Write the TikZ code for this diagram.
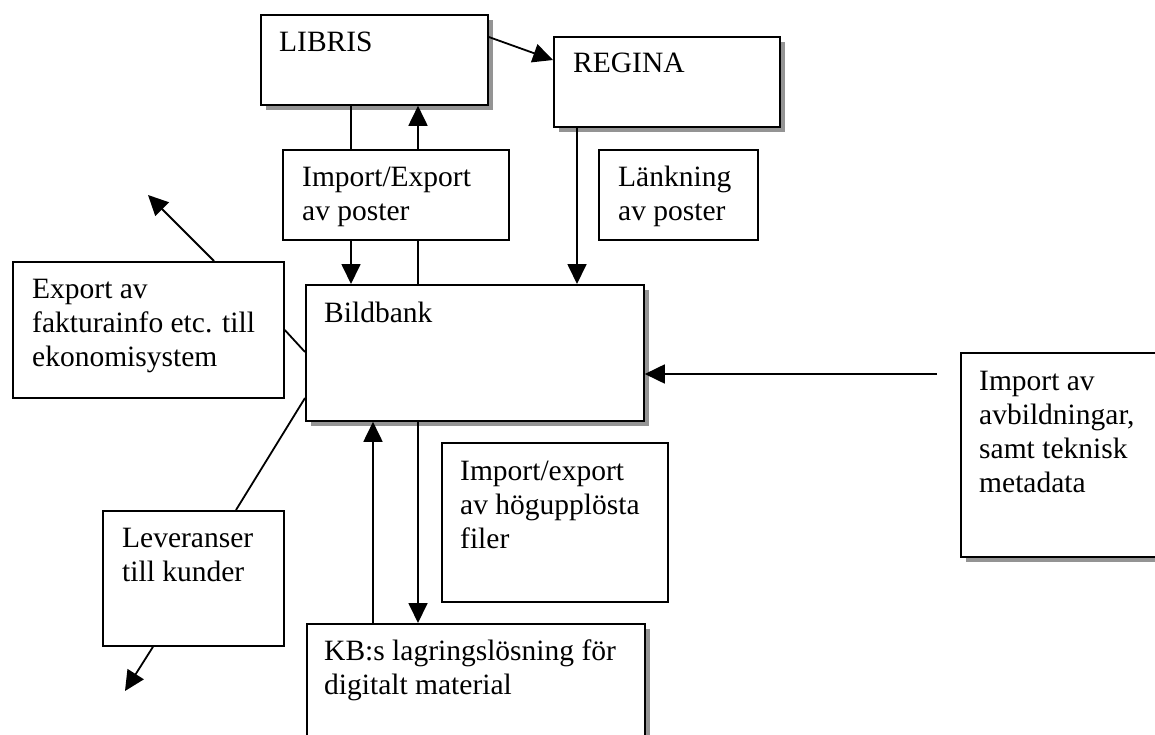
\documentclass[tikz,border=0pt]{standalone}
\usepackage{fontspec}
\setmainfont{Liberation Serif}
\usetikzlibrary{arrows.meta,shadows,calc}
\tikzset{
  box/.style={draw=black, line width=1.8pt, fill=white, rectangle, inner sep=0pt, anchor=north west},
  shadowed/.style={drop shadow={shadow xshift=5pt, shadow yshift=-5pt, fill=black!42, opacity=1}},
  txt/.style={inner sep=0pt, anchor=base west, font=\fontsize{29.5}{34}\selectfont},
  conn/.style={line width=1.8pt},
  arr/.style={conn, -{Triangle[length=20pt,width=19pt]}}
}
\newcommand{\mlines}[1]{\begin{tabular}[t]{@{}l@{}}#1\end{tabular}}
\begin{document}
\begin{tikzpicture}[x=1pt,y=-1pt]
\useasboundingbox (0,0) rectangle (1155,735);
\clip (0,0) rectangle (1155,735);
% boxes
\node[box,shadowed,minimum width=227pt,minimum height=90pt] (libris) at (260,14) {};
\node[box,shadowed,minimum width=226pt,minimum height=90pt] (regina) at (553,36) {};
\node[box,minimum width=226pt,minimum height=90pt] (impexp) at (282,149) {};
\node[box,minimum width=159pt,minimum height=90pt] (lank) at (598,149) {};
\node[box,shadowed,minimum width=338pt,minimum height=136pt] (bildbank) at (305,284) {};
\node[box,minimum width=271pt,minimum height=136pt] (export) at (12,261) {};
\node[box,minimum width=181pt,minimum height=135pt] (lev) at (102,510) {};
\node[box,minimum width=226pt,minimum height=159pt] (hog) at (441,442) {};
\node[box,shadowed,minimum width=338pt,minimum height=140pt] (kb) at (306,623) {};
\node[box,shadowed,minimum width=230pt,minimum height=204pt] (impav) at (960,352) {};
% texts
\node[txt] (t-libris) at (279,52) {LIBRIS};
\node[txt] (t-regina) at (573,73) {REGINA};
\node[txt] (t-impexp) at (302,187) {\mlines{Import/Export\\av poster}};
\node[txt] (t-lank) at (618,187) {\mlines{Länkning\\av poster}};
\node[txt] (t-bildbank) at (324,322) {Bildbank};
\node[txt] (t-export) at (32,298) {\mlines{Export av\\fakturainfo etc. till\\ekonomisystem}};
\node[txt] (t-lev) at (122,547) {\mlines{Leveranser\\till kunder}};
\node[txt] (t-hog) at (460,480) {\mlines{Import/export\\av högupplösta\\filer}};
\node[txt] (t-kb) at (324,660) {\mlines{KB:s lagringslösning för\\digitalt material}};
\node[txt] (t-impav) at (979,390) {\mlines{Import av\\avbildningar,\\samt teknisk\\metadata}};
% free ends
\coordinate (imsrc) at (937,374);
\coordinate (exptip) at (148,195);
\coordinate (levtip) at (125,691);
% connectors
\draw[arr] ([yshift=-23pt]libris.north east) -- ([yshift=-24pt]regina.north west);
\draw[conn] ([xshift=91pt]libris.south west) -- ([xshift=69pt]impexp.north west);
\draw[arr] ([xshift=136pt]impexp.north west) -- ([xshift=158pt]libris.south west);
\draw[arr] ([xshift=69pt]impexp.south west) -- ([xshift=46pt]bildbank.north west);
\draw[conn] ([xshift=136pt]impexp.south west) -- ([xshift=113pt]bildbank.north west);
\draw[arr] ([xshift=24pt]regina.south west) -- ([xshift=272pt]bildbank.north west);
\draw[arr] (imsrc) -- ([yshift=-90pt]bildbank.north east);
\draw[arr] ([xshift=67pt]kb.north west) -- ([xshift=68pt]bildbank.south west);
\draw[arr] ([xshift=113pt]bildbank.south west) -- ([xshift=112pt]kb.north west);
\draw[arr] ([xshift=202pt]export.north west) -- (exptip);
\draw[conn] ([yshift=-69pt]export.north east) -- ([yshift=-68pt]bildbank.north west);
\draw[conn] ([yshift=-114pt]bildbank.north west) -- ([xshift=134pt]lev.north west);
\draw[arr] ([xshift=51pt]lev.south west) -- (levtip);
\end{tikzpicture}
\end{document}
